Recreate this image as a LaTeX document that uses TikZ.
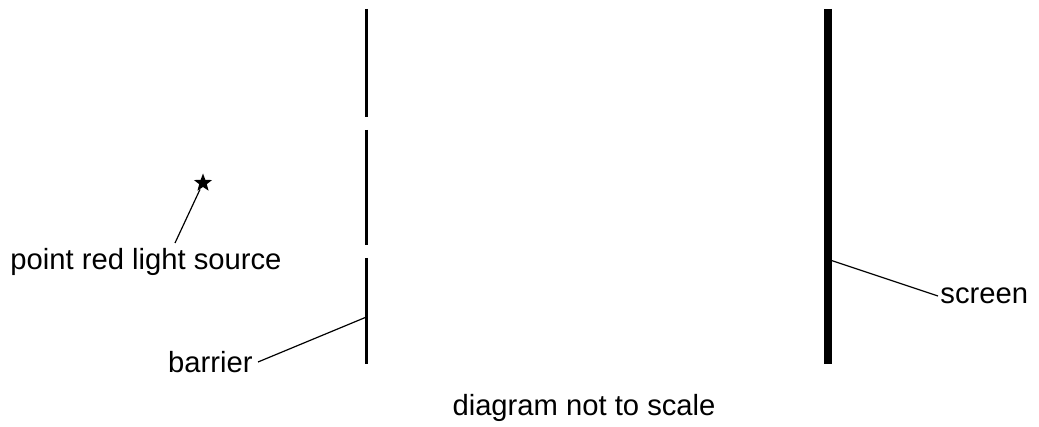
\documentclass[tikz,border=0pt]{standalone}
\usepackage{fontspec}
\setmainfont{Liberation Sans}
\usetikzlibrary{positioning,shapes.geometric}
\tikzset{
  barrierline/.style={line width=1.5pt},
  screenline/.style={line width=4pt},
  leader/.style={line width=0.6pt},
  labeltext/.style={font=\fontsize{14.6}{17}\selectfont,inner sep=0pt},
  source/.style={star,star points=5,star point ratio=2.4,fill=black,draw=none,minimum size=9.5pt,inner sep=0pt}
}
\begin{document}
\begin{tikzpicture}[x=0.5pt,y=-0.5pt]
\useasboundingbox (0,0) rectangle (1039,427);

% barrier with two slits
\coordinate (b1) at (366.5,9);
\coordinate (b2) at (366.5,117);
\coordinate (b3) at (366.5,130);
\coordinate (b4) at (366.5,245);
\coordinate (b5) at (366.5,258);
\coordinate (b6) at (366.5,364);
\draw[barrierline] (b1) -- (b2);
\draw[barrierline] (b3) -- (b4);
\draw[barrierline] (b5) -- (b6);

% screen
\coordinate (s1) at (828,9);
\coordinate (s2) at (828,364);
\draw[screenline] (s1) -- (s2);

% source
\node[source] (lamp) at (203,183) {};
\node[labeltext] (lamplbl) at (146,262) {point red light source};
\coordinate (lampend) at (175,243);
\draw[leader] (lamp) -- (lampend);

% labels
\coordinate (bpt) at (366.5,317);
\node[labeltext,anchor=east] (barlbl) at (253,362) {barrier};
\draw[leader] (bpt) -- ([xshift=2.5pt]barlbl.east);

\coordinate (spt) at (830,260);
\node[labeltext,anchor=west] (scrlbl) at (940,296) {screen};
\draw[leader] (spt) -- ([xshift=-1pt]scrlbl.west);

\node[labeltext] (note) at (584,408) {diagram not to scale};
\end{tikzpicture}
\end{document}
